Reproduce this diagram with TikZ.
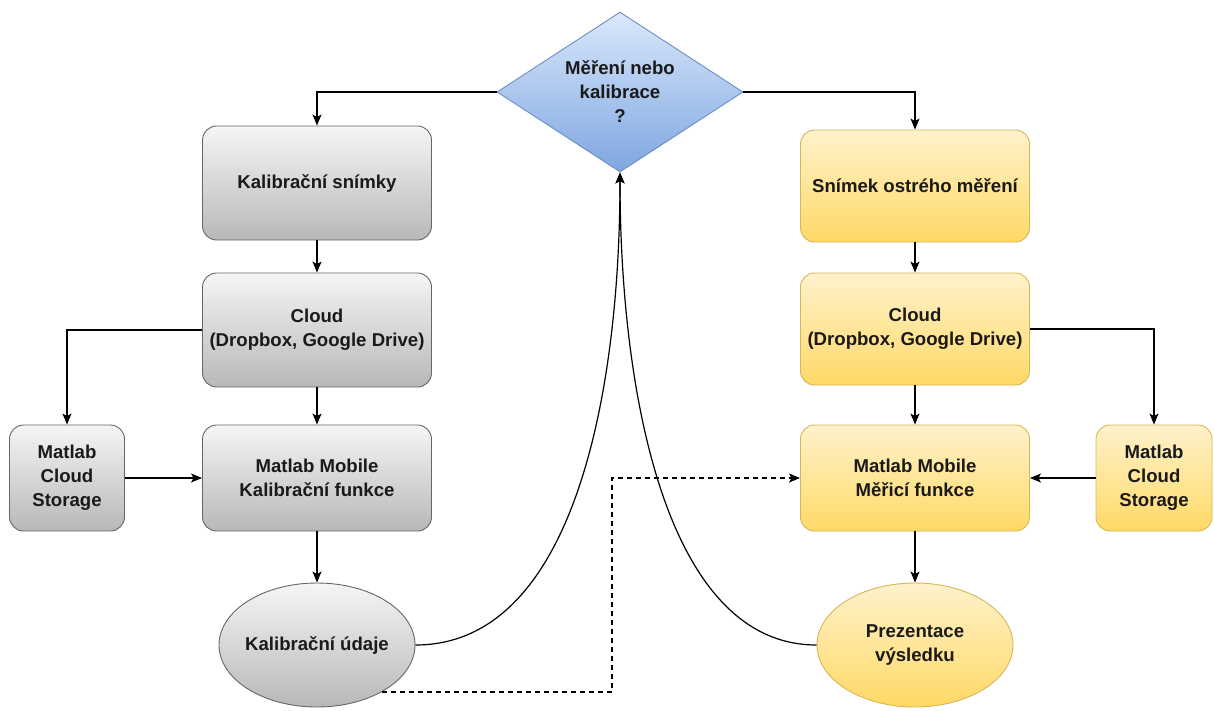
\documentclass[tikz,border=0pt]{standalone}
\usepackage{fontspec}
\setmainfont{Liberation Sans}
\usetikzlibrary{arrows.meta,positioning,shapes.geometric}
\definecolor{grayedge}{HTML}{666666}
\definecolor{graytop}{HTML}{F5F5F5}
\definecolor{graybottom}{HTML}{B8B8B8}
\definecolor{yellowedge}{HTML}{D6B656}
\definecolor{yellowtop}{HTML}{FFF2CC}
\definecolor{yellowbottom}{HTML}{FFD966}
\definecolor{blueedge}{HTML}{6C8EBF}
\definecolor{bluetop}{HTML}{DAE8FC}
\definecolor{bluebottom}{HTML}{7EA6E0}
\definecolor{ink}{HTML}{1A1A1A}
\tikzset{
  stepbase/.style={
    line width=0.9pt,
    align=center,
    text=ink,
    inner sep=0pt,
    font=\bfseries\fontsize{18.6}{24}\selectfont
  },
  graybox/.style={
    stepbase,
    rounded corners=14pt,
    draw=grayedge,
    top color=graytop,
    bottom color=graybottom,
    minimum width=229pt,
    minimum height=114pt
  },
  yellowbox/.style={
    stepbase,
    rounded corners=14pt,
    draw=yellowedge,
    top color=yellowtop,
    bottom color=yellowbottom,
    minimum width=229pt,
    minimum height=112pt
  },
  grayoval/.style={
    stepbase,ellipse,inner xsep=-12pt,
    draw=grayedge,
    top color=graytop,
    bottom color=graybottom,
    minimum width=196pt,
    minimum height=124pt
  },
  yellowoval/.style={
    stepbase,ellipse,inner xsep=-12pt,
    draw=yellowedge,
    top color=yellowtop,
    bottom color=yellowbottom,
    minimum width=196pt,
    minimum height=124pt
  },
  decision/.style={
    stepbase,diamond,
    draw=blueedge,
    top color=bluetop,
    bottom color=bluebottom,
    shape aspect=1.54,
    minimum width=246pt,
    minimum height=160pt
  },
  flowarrow/.style={-{Stealth[length=11pt,width=9pt,inset=2.5pt]},line width=1.2pt,draw=black},
  dasharrow/.style={flowarrow,dash pattern=on 5pt off 4pt}
}
\begin{document}
\begin{tikzpicture}[x=1pt,y=-1pt]
\useasboundingbox (0,0) rectangle (1214,710);
% decision
\node[decision] (dia) at (620,92) {M\v{e}\v{r}en\'i nebo\\kalibrace\\?};
% left branch
\node[graybox] (kalsnim) at (317,183) {Kalibra\v{c}n\'i sn\'imky};
\node[graybox] (cloudL) at (317,330) {Cloud\\(Dropbox, Google Drive)};
\node[graybox,minimum height=106pt] (mobileL) at (317,478) {Matlab Mobile\\Kalibra\v{c}n\'i funkce};
\node[graybox,minimum width=115pt,minimum height=106pt] (storeL) at (67,478) {Matlab\\Cloud\\Storage};
\node[grayoval] (kaludaje) at (317,645) {Kalibra\v{c}n\'i \'udaje};
% right branch
\node[yellowbox] (snimek) at (915,186) {Sn\'imek ostr\'eho m\v{e}\v{r}en\'i};
\node[yellowbox] (cloudR) at (915,329) {Cloud\\(Dropbox, Google Drive)};
\node[yellowbox,minimum height=106pt] (mobileR) at (915,478) {Matlab Mobile\\M\v{e}\v{r}ic\'i funkce};
\node[yellowbox,minimum width=116pt,minimum height=106pt] (storeR) at (1154,478) {Matlab\\Cloud\\Storage};
\node[yellowoval] (prezent) at (915,645) {Prezentace\\v\'ysledku};
\coordinate (dashbend) at (612,478);
% connectors
\draw[flowarrow] (dia.west) -| (kalsnim.north);
\draw[flowarrow] (dia.east) -| (snimek.north);
\draw[flowarrow] (kalsnim) -- (cloudL);
\draw[flowarrow] (cloudL) -- (mobileL);
\draw[flowarrow] (mobileL) -- (kaludaje);
\draw[flowarrow] (cloudL.west) -| (storeL.north);
\draw[flowarrow] (storeL) -- (mobileL);
\draw[flowarrow] (snimek) -- (cloudR);
\draw[flowarrow] (cloudR) -- (mobileR);
\draw[flowarrow] (mobileR) -- (prezent);
\draw[flowarrow] (cloudR.east) -| (storeR.north);
\draw[flowarrow] (storeR) -- (mobileR);
\draw[flowarrow] (kaludaje.east) .. controls (575,645) and (620,390) .. (dia.south);
\draw[flowarrow] (prezent.west) .. controls (665,645) and (620,390) .. (dia.south);
\draw[dasharrow] (kaludaje.-36) -| (dashbend) -- (mobileR.west);
\end{tikzpicture}
\end{document}
